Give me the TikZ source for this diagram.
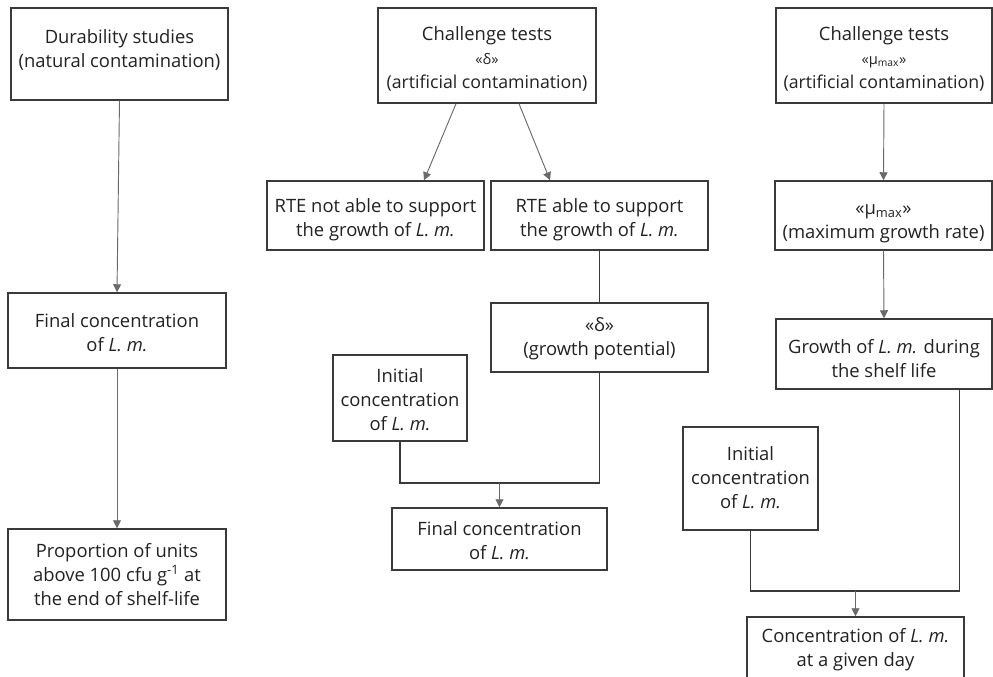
\documentclass[tikz,border=0pt]{standalone}
\usepackage{fontspec}
\setmainfont{Open Sans}
\usetikzlibrary{arrows.meta,calc}
\definecolor{txtc}{HTML}{222222}
\definecolor{boxc}{HTML}{3A3A3A}
\definecolor{arrc}{HTML}{6A6A6A}
\newcommand\drawbox[7]{%
  \node[box, minimum width={(#4-#2)*0.75pt}, minimum height={(#5-#3)*0.75pt}] (#1) at ({(#2+#4)/2},{(#3+#5)/2}) {};
  \node[lbl] (#1t) at ({(#2+#4)/2},#6) {#7};}
\newcommand\sm[1]{{\fontsize{11}{12}\selectfont #1}}
\newcommand\nar[1]{{\fontsize{13.3}{18}\selectfont #1}}
\begin{document}
\begin{tikzpicture}[x=0.75pt,y=-0.75pt,
  box/.style={draw=boxc, line width=1.1pt, inner sep=0pt, fill=white},
  lbl/.style={text=txtc, align=center, inner sep=0pt, font=\fontsize{13.8}{18}\selectfont},
  arr/.style={draw=arrc, line width=0.7pt, -{Triangle[width=6pt,length=6pt]}},
  link/.style={draw=boxc, line width=0.8pt}]
\useasboundingbox (0,0) rectangle (993,677);
\clip (0,0) rectangle (993,677);
\fill[white] (0,0) rectangle (993,677);
% left column
\drawbox{A}{11}{8}{228}{100}{50}{Durability studies\\(natural contamination)}
\drawbox{B}{8}{293}{226}{368}{333}{Final concentration\\of \textit{L. m.}}
\drawbox{C}{8}{529}{226}{620}{575}{Proportion of units\\above 100 cfu g\textsuperscript{-1} at\\the end of shelf-life}
% middle column
\drawbox{D}{378}{8}{596}{103}{59}{Challenge tests\\\sm{«δ»}\\\nar{(artificial contamination)}}
\drawbox{E}{267}{181}{484}{250}{220}{RTE not able to support\\the growth of \textit{L. m.}}
\drawbox{F}{491}{181}{708}{250}{220}{RTE able to support\\the growth of \textit{L. m.}}
\drawbox{G}{491}{303}{708}{372}{339}{«δ»\\(growth potential)}
\drawbox{H}{333}{355}{467}{441}{400}{Initial\\concentration\\of \textit{L. m.}}
\drawbox{I}{392}{508}{607}{570}{541}{Final concentration\\of \textit{L. m.}}
% right column
\drawbox{J}{776}{8}{992}{103}{59}{Challenge tests\\\sm{«μ\textsubscript{max}»}\\\nar{(artificial contamination)}}
\drawbox{K}{775}{181}{992}{250}{224}{«μ\textsubscript{max}»\\(maximum growth rate)}
\drawbox{L}{776}{319}{992}{389}{359}{Growth of \textit{L. m.} during\\the shelf life}
\drawbox{M}{683}{427}{818}{530}{478}{Initial\\concentration\\of \textit{L. m.}}
\drawbox{N}{747}{617}{964}{690}{650}{Concentration of \textit{L. m.}\\at a given day}
% connectors
\draw[arr] (A.south) -- (B.north);
\draw[arr] (B.south) -- (C.north);
\draw[arr] ([xshift=-23.25pt]D.south) -- ([xshift=36.4pt]E.north);
\draw[arr] ([xshift=24pt]D.south) -- ([xshift=-37.1pt]F.north);
\draw[link] (F.south) -- (G.north);
\coordinate (j1) at (499.5,483);
\draw[link] (H.south) |- (j1) -| (G.south);
\draw[arr] (j1) -- (I.north);
\draw[arr] (J.south) -- (K.north);
\draw[arr] (K.south) -- (L.north);
\coordinate (j2) at (855.5,591);
\draw[link] (M.south) |- (j2) -| ([xshift=-24.75pt]L.south east);
\draw[arr] (j2) -- (N.north);
\end{tikzpicture}
\end{document}
